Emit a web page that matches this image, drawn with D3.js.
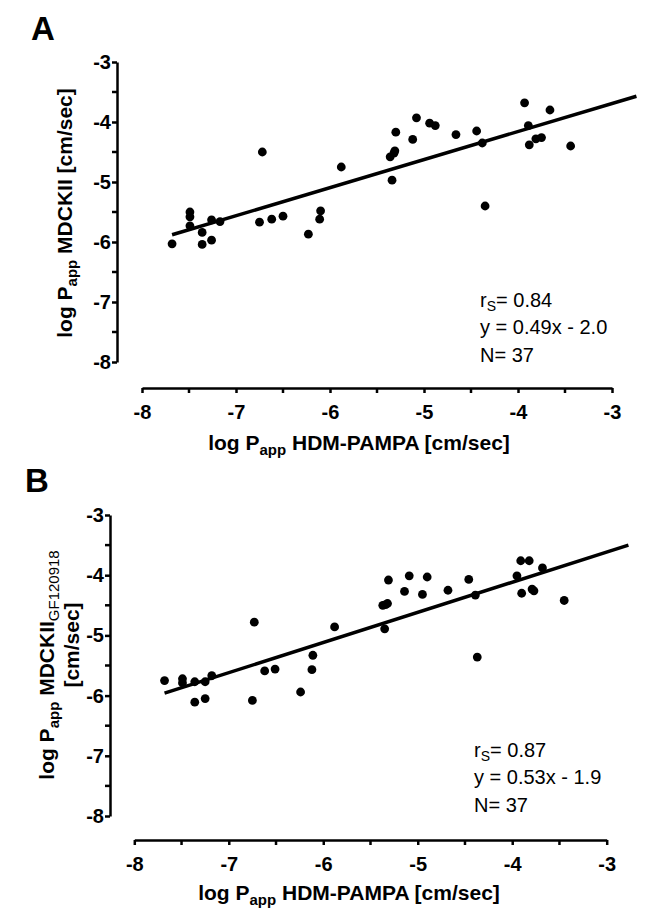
<!DOCTYPE html>
<html>
<head>
<meta charset="utf-8">
<script src="https://cdn.jsdelivr.net/npm/d3@7"></script>
<style>
  body { margin: 0; background: #fff; }
  text { font-family: Arial, 'Liberation Sans', sans-serif; fill: #000; }
</style>
</head>
<body>
<svg id="chart" width="650" height="912"></svg>
<script>
// tick values shared by both panels
var majorTicks = [-8, -7, -6, -5, -4, -3];
var minorTicks = [-7.5, -6.5, -5.5, -4.5, -3.5];

// panel A : HDM-PAMPA vs MDCKII
var pampaA = [-7.68,-7.49,-7.49,-7.49,-7.36,-7.36,-7.26,-7.26,-7.17,-6.72,-6.75,-6.62,-6.50,-6.23,-6.10,-6.11,-5.88,-5.30,-5.31,-5.36,-5.34,-5.12,-5.08,-4.94,-4.88,-4.66,-4.44,-4.38,-4.35,-3.93,-3.89,-3.88,-3.66,-3.81,-3.75,-3.44,-5.32];
var mdckA  = [-6.03,-5.50,-5.58,-5.73,-5.84,-6.04,-5.63,-5.97,-5.66,-4.50,-5.67,-5.62,-5.57,-5.87,-5.48,-5.62,-4.75,-4.17,-4.48,-4.58,-4.97,-4.29,-3.93,-4.02,-4.06,-4.21,-4.15,-4.35,-5.40,-3.68,-4.06,-4.38,-3.80,-4.28,-4.26,-4.40,-4.52];
var fitAx = [-7.68, -2.74];
var fitAy = [-5.88, -3.57];
var statsA = ['0.84', 'y = 0.49x - 2.0', 'N= 37'];

// panel B : HDM-PAMPA vs MDCKII + GF120918
var pampaB = [-5.31,-5.32,-5.37,-5.35,-5.88,-6.73,-6.11,-6.12,-6.51,-6.62,-7.68,-7.49,-7.49,-7.36,-7.25,-7.18,-7.36,-7.25,-6.75,-6.24,-5.14,-5.09,-4.95,-4.90,-4.68,-4.46,-4.39,-4.37,-3.91,-3.82,-3.95,-3.90,-3.79,-3.77,-3.68,-3.45,-5.34];
var mdckB  = [-4.08,-4.47,-4.50,-4.89,-4.86,-4.78,-5.33,-5.57,-5.56,-5.59,-5.75,-5.72,-5.79,-5.77,-5.77,-5.67,-6.11,-6.05,-6.08,-5.94,-4.27,-4.01,-4.32,-4.03,-4.25,-4.07,-4.33,-5.36,-3.76,-3.76,-4.01,-4.30,-4.23,-4.26,-3.88,-4.42,-4.49];
var fitBx = [-7.68, -2.77];
var fitBy = [-5.96, -3.50];
var statsB = ['0.87', 'y = 0.53x - 1.9', 'N= 37'];

var svg = d3.select('#chart');

function drawPanel(p) {
  var x = d3.scaleLinear().domain([-8, -3]).range([p.x0, p.x1]);
  var y = d3.scaleLinear().domain([-8, -3]).range([p.y0, p.y1]);
  var g = svg.append('g');

  // panel letter
  g.append('text')
    .attr('x', p.letterX).attr('y', p.letterY)
    .style('font-size', '33px').style('font-weight', 'bold')
    .text(p.letter);

  // axes (plain hyphen for the minus sign, like the original)
  var fmt = function(d) { return String(d); };
  var xAxis = d3.axisBottom(x).tickValues(majorTicks).tickSize(5).tickPadding(12).tickSizeOuter(0).tickFormat(fmt);
  var yAxis = d3.axisLeft(y).tickValues(majorTicks).tickSize(5).tickPadding(1).tickSizeOuter(0).tickFormat(fmt);

  var gx = g.append('g').attr('transform', 'translate(0,' + p.xAxisY + ')').call(xAxis);
  var gy = g.append('g').attr('transform', 'translate(' + p.yAxisX + ',0)').call(yAxis);

  // minor ticks
  gx.selectAll('.minor').data(minorTicks).enter().append('line')
    .attr('x1', function(d) { return x(d); }).attr('x2', function(d) { return x(d); })
    .attr('y1', 0).attr('y2', 5);
  gy.selectAll('.minor').data(minorTicks).enter().append('line')
    .attr('y1', function(d) { return y(d); }).attr('y2', function(d) { return y(d); })
    .attr('x1', 0).attr('x2', -5);

  [gx, gy].forEach(function(a) {
    a.attr('font-family', null).attr('font-size', null);
    a.select('.domain').attr('stroke', '#000').attr('stroke-width', 2.5);
    a.selectAll('line').attr('stroke', '#000').attr('stroke-width', 2.5);
    a.selectAll('.tick text')
      .attr('font-size', 20).attr('font-weight', 'bold')
      .style('font-size', '20px').style('font-weight', 'bold');
  });

  // x title
  var xt = g.append('text')
    .attr('x', p.xTitleX).attr('y', p.xTitleY)
    .attr('text-anchor', 'middle')
    .style('font-size', '21px').style('font-weight', 'bold');
  xt.append('tspan').text('log P');
  xt.append('tspan').attr('dy', 5).style('font-size', '15px').text('app');
  xt.append('tspan').attr('dy', -5).text(' HDM-PAMPA [cm/sec]');

  // y title (rotated)
  var yt = g.append('text')
    .attr('transform', 'translate(' + p.yTitleX + ',' + p.yTitleY + ') rotate(-90)')
    .attr('text-anchor', 'middle')
    .style('font-size', '21px').style('font-weight', 'bold');
  yt.append('tspan').text('log P');
  yt.append('tspan').attr('dy', 5).style('font-size', '15px').text('app');
  if (p.gf) {
    yt.append('tspan').attr('dy', -5).text(' MDCKII');
    yt.append('tspan').attr('dy', 5).style('font-size', '15px').style('font-weight', 'normal').text('GF120918');
    g.append('text')
      .attr('transform', 'translate(' + p.yTitle2X + ',' + p.yTitle2Y + ') rotate(-90)')
      .attr('text-anchor', 'middle')
      .style('font-size', '21px').style('font-weight', 'bold')
      .text('[cm/sec]');
  } else {
    yt.append('tspan').attr('dy', -5).text(' MDCKII [cm/sec]');
  }

  // regression line
  var line = d3.line().x(function(d) { return x(d[0]); }).y(function(d) { return y(d[1]); });
  g.append('path')
    .datum(d3.zip(p.fitX, p.fitY))
    .attr('d', line)
    .attr('fill', 'none').attr('stroke', '#000').attr('stroke-width', 3.5);

  // points
  g.selectAll('circle').data(d3.zip(p.xs, p.ys)).enter().append('circle')
    .attr('cx', function(d) { return x(d[0]); })
    .attr('cy', function(d) { return y(d[1]); })
    .attr('r', 4.4).attr('fill', '#000');

  // stats text
  var s = g.append('text').attr('x', p.statX).attr('y', p.statY).style('font-size', '20px');
  s.append('tspan').text('r');
  s.append('tspan').attr('dy', 4).style('font-size', '14px').text('S');
  s.append('tspan').attr('dy', -4).text('= ' + p.stats[0]);
  g.append('text').attr('x', p.statX).attr('y', p.statY + 27).style('font-size', '20px').text(p.stats[1]);
  g.append('text').attr('x', p.statX).attr('y', p.statY + 55).style('font-size', '20px').text(p.stats[2]);
}

drawPanel({
  letter: 'A', letterX: 31, letterY: 40,
  x0: 142, x1: 612, y0: 362, y1: 62, xAxisY: 388, yAxisX: 117,
  xTitleX: 359, xTitleY: 450, yTitleX: 72, yTitleY: 213,
  xs: pampaA, ys: mdckA, fitX: fitAx, fitY: fitAy,
  stats: statsA, statX: 480, statY: 307
});

drawPanel({
  letter: 'B', letterX: 25, letterY: 492,
  x0: 134.3, x1: 606.7, y0: 816, y1: 515, xAxisY: 840, yAxisX: 110,
  xTitleX: 349, xTitleY: 900, yTitleX: 54, yTitleY: 665, gf: true, yTitle2X: 79, yTitle2Y: 645,
  xs: pampaB, ys: mdckB, fitX: fitBx, fitY: fitBy,
  stats: statsB, statX: 474, statY: 757
});
</script>
</body>
</html>
